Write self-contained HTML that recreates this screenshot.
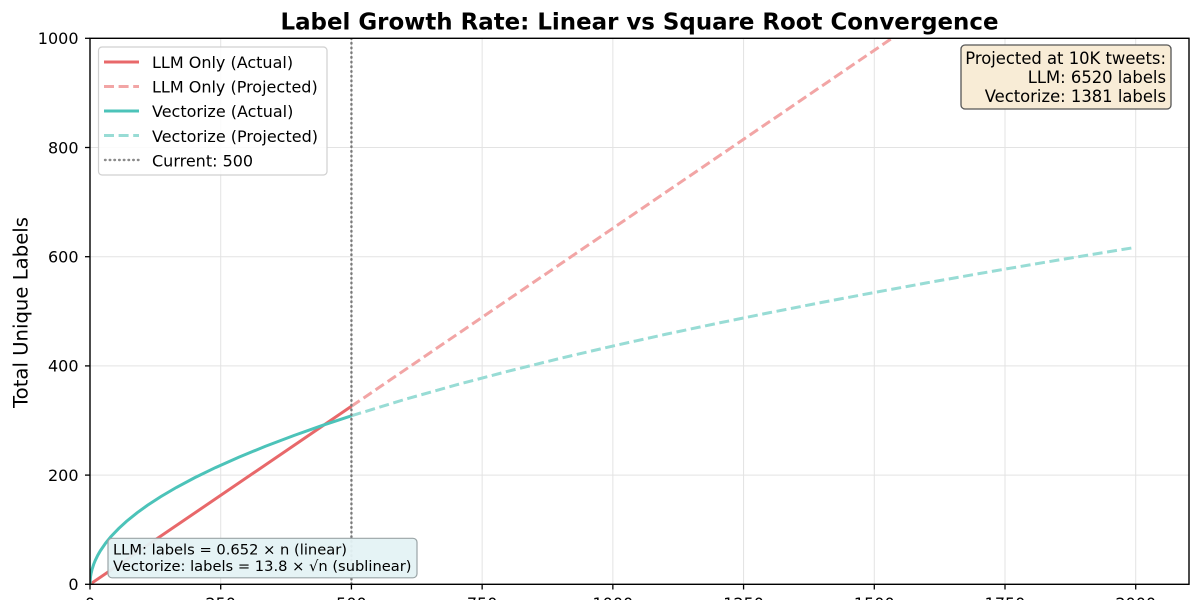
<!DOCTYPE html>
<html>
<head>
<meta charset="utf-8">
<style>
html,body{margin:0;padding:0;background:#fff;}
svg{display:block;}
text{font-family:"DejaVu Sans","Liberation Sans",sans-serif;fill:#000;}
</style>
</head>
<body>
<svg width="1200" height="600" viewBox="0 0 1200 600" xmlns="http://www.w3.org/2000/svg">
<defs>
<clipPath id="ax"><rect x="90" y="38.3" width="1099" height="546"/></clipPath>
</defs>
<rect width="1200" height="600" fill="#fff"/>
<!-- grid -->
<g stroke="#e3e3e3" stroke-width="1">
<line x1="220.71" y1="38.3" x2="220.71" y2="584.3"/>
<line x1="351.43" y1="38.3" x2="351.43" y2="584.3"/>
<line x1="482.14" y1="38.3" x2="482.14" y2="584.3"/>
<line x1="612.86" y1="38.3" x2="612.86" y2="584.3"/>
<line x1="743.57" y1="38.3" x2="743.57" y2="584.3"/>
<line x1="874.29" y1="38.3" x2="874.29" y2="584.3"/>
<line x1="1005.0" y1="38.3" x2="1005.0" y2="584.3"/>
<line x1="1135.71" y1="38.3" x2="1135.71" y2="584.3"/>
<line x1="90" y1="475.1" x2="1189" y2="475.1"/>
<line x1="90" y1="365.9" x2="1189" y2="365.9"/>
<line x1="90" y1="256.7" x2="1189" y2="256.7"/>
<line x1="90" y1="147.5" x2="1189" y2="147.5"/>
</g>
<g clip-path="url(#ax)" fill="none" stroke-width="3">
<!-- LLM projected -->
<line x1="351.43" y1="406.3" x2="1135.71" y2="-127.7" stroke="#f2a5a5" stroke-dasharray="10 4.6"/>
<!-- Vectorize projected -->
<polyline stroke="#98dcd5" stroke-dasharray="10 4.6" points="351.43,415.81 403.72,399.73 456.00,384.94 508.29,371.18 560.57,358.26 612.86,346.03 665.15,334.40 717.43,323.29 769.72,312.63 822.00,302.37 874.29,292.48 926.58,282.91 978.86,273.63 1031.15,264.63 1083.43,255.86 1135.72,247.34"/>
<!-- LLM actual -->
<line x1="90" y1="584.3" x2="351.43" y2="406.3" stroke="#e8686a"/>
<!-- Vectorize actual -->
<polyline stroke="#4cc3b9" points="90,584.3 90.52,576.77 91.05,573.64 92.09,569.23 93.66,564.37 95.23,560.47 97.84,555.12 100.46,550.60 105.69,543.03 110.91,536.64 118.76,528.42 126.60,521.26 137.06,512.82 147.51,505.27 160.59,496.75 176.27,487.51 194.57,477.74 215.49,467.57 239.02,457.10 265.16,446.39 293.92,435.50 322.67,425.35 351.43,415.81"/>
<!-- current line -->
<line x1="351.43" y1="38.3" x2="351.43" y2="584.3" stroke="#7a7a7a" stroke-width="2.4" stroke-dasharray="0.6 4.1" stroke-linecap="round"/>
</g>
<!-- spines -->
<rect x="90" y="38.3" width="1099" height="546" fill="none" stroke="#000" stroke-width="1.4"/>
<!-- ticks -->
<g stroke="#000" stroke-width="1.3">
<line x1="85" y1="584.3" x2="90" y2="584.3"/>
<line x1="85" y1="475.1" x2="90" y2="475.1"/>
<line x1="85" y1="365.9" x2="90" y2="365.9"/>
<line x1="85" y1="256.7" x2="90" y2="256.7"/>
<line x1="85" y1="147.5" x2="90" y2="147.5"/>
<line x1="85" y1="38.3" x2="90" y2="38.3"/>
<line x1="90" y1="584.3" x2="90" y2="589.5"/>
<line x1="220.71" y1="584.3" x2="220.71" y2="589.5"/>
<line x1="351.43" y1="584.3" x2="351.43" y2="589.5"/>
<line x1="482.14" y1="584.3" x2="482.14" y2="589.5"/>
<line x1="612.86" y1="584.3" x2="612.86" y2="589.5"/>
<line x1="743.57" y1="584.3" x2="743.57" y2="589.5"/>
<line x1="874.29" y1="584.3" x2="874.29" y2="589.5"/>
<line x1="1005.0" y1="584.3" x2="1005.0" y2="589.5"/>
<line x1="1135.71" y1="584.3" x2="1135.71" y2="589.5"/>
</g>
<g font-size="16" text-anchor="end">
<text x="78.5" y="590.1">0</text>
<text x="78.5" y="480.9">200</text>
<text x="78.5" y="371.7">400</text>
<text x="78.5" y="262.5">600</text>
<text x="78.5" y="153.3">800</text>
<text x="78.5" y="44.1">1000</text>
</g>
<g font-size="16" text-anchor="middle">
<text x="90" y="608.8">0</text>
<text x="220.71" y="608.8">250</text>
<text x="351.43" y="608.8">500</text>
<text x="482.14" y="608.8">750</text>
<text x="612.86" y="608.8">1000</text>
<text x="743.57" y="608.8">1250</text>
<text x="874.29" y="608.8">1500</text>
<text x="1005.0" y="608.8">1750</text>
<text x="1135.71" y="608.8">2000</text>
</g>
<!-- title -->
<text x="639.5" y="29.5" font-size="22.9" font-weight="bold" text-anchor="middle" textLength="718" lengthAdjust="spacingAndGlyphs">Label Growth Rate: Linear vs Square Root Convergence</text>
<!-- y label -->
<text transform="translate(27.3,312.5) rotate(-90)" font-size="19.3" text-anchor="middle" textLength="191" lengthAdjust="spacingAndGlyphs">Total Unique Labels</text>
<!-- legend -->
<rect x="98.5" y="47" width="228.5" height="128" rx="3.5" fill="#fff" fill-opacity="0.85" stroke="#d0d0d0" stroke-width="1.2"/>
<g stroke-width="3" fill="none">
<line x1="104" y1="62" x2="139" y2="62" stroke="#e8686a"/>
<line x1="104" y1="86.5" x2="139" y2="86.5" stroke="#f2a5a5" stroke-dasharray="10 4.6"/>
<line x1="104" y1="111" x2="139" y2="111" stroke="#4cc3b9"/>
<line x1="104" y1="135.5" x2="139" y2="135.5" stroke="#98dcd5" stroke-dasharray="10 4.6"/>
<line x1="105" y1="160" x2="139" y2="160" stroke="#8a8a8a" stroke-width="2.4" stroke-dasharray="0.6 4.1" stroke-linecap="round"/>
</g>
<g font-size="16">
<text x="152" y="68">LLM Only (Actual)</text>
<text x="152" y="92.6">LLM Only (Projected)</text>
<text x="152" y="117.2">Vectorize (Actual)</text>
<text x="152" y="141.8">Vectorize (Projected)</text>
<text x="152" y="166.3">Current: 500</text>
</g>
<!-- top-right box -->
<rect x="961" y="45" width="210" height="64" rx="4" fill="#f8ecd6" stroke="#555" stroke-width="1.3"/>
<g font-size="16.4" text-anchor="end">
<text x="1166" y="64">Projected at 10K tweets:</text>
<text x="1166" y="83.2">LLM: 6520 labels</text>
<text x="1166" y="102.2">Vectorize: 1381 labels</text>
</g>
<!-- bottom-left box -->
<rect x="108" y="538.3" width="309" height="39.5" rx="4" fill="#e4f2f4" fill-opacity="0.95" stroke="#9aa4a6" stroke-width="1.2"/>
<g font-size="14.6">
<text x="113" y="554.6" textLength="234" lengthAdjust="spacingAndGlyphs">LLM: labels = 0.652 × n (linear)</text>
<text x="113" y="571" textLength="298.5" lengthAdjust="spacingAndGlyphs">Vectorize: labels = 13.8 × √n (sublinear)</text>
</g>
</svg>
</body>
</html>
